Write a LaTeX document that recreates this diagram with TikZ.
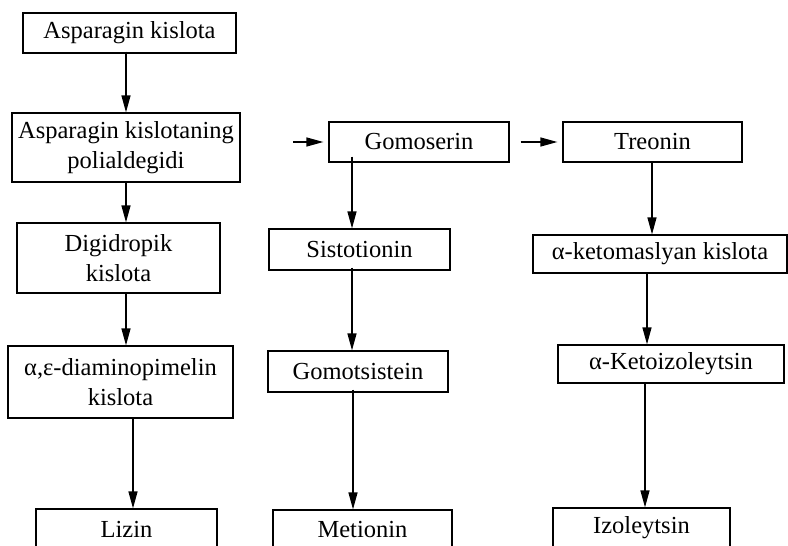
\documentclass[tikz,border=0pt]{standalone}
\usepackage{fontspec}
\setmainfont{Liberation Serif}
\usetikzlibrary{arrows.meta}
\begin{document}
\begin{tikzpicture}[x=1pt,y=-1pt,
  box/.style={draw, line width=1.2pt, inner sep=0pt, align=center,
    font=\fontsize{24.5}{30}\selectfont},
  arr/.style={line width=1.3pt, -{Triangle[length=17pt,width=9pt]}}]
\useasboundingbox (0,0) rectangle (788,546);

% left column: lysine branch
\node[box, minimum width=213pt, minimum height=40pt] (asp) at (129.5,33) {Asparagin kislota};
\node[box, minimum width=228pt, minimum height=69pt] (pol) at (126,147.5) {Asparagin kislotaning\\polialdegidi};
\node[box, minimum width=203pt, minimum height=70pt] (dig) at (118.5,258) {Digidropik\\kislota};
\node[box, minimum width=225pt, minimum height=72pt] (dap) at (120.5,382) {α,ε-diaminopimelin\\kislota};
\node[box, minimum width=181pt, minimum height=40pt] (liz) at (126.5,529) {Lizin};

% middle column: methionine branch
\node[box, minimum width=180pt, minimum height=40pt] (gom) at (419,142) {Gomoserin};
\node[box, minimum width=181pt, minimum height=41pt] (sis) at (359.5,249.5) {Sistotionin};
\node[box, minimum width=180pt, minimum height=41pt] (gcy) at (358,371.5) {Gomotsistein};
\node[box, minimum width=179pt, minimum height=40pt] (met) at (362.5,530) {Metionin};

% right column: isoleucine branch
\node[box, minimum width=179pt, minimum height=40pt] (tre) at (652.5,142) {Treonin};
\node[box, minimum width=254pt, minimum height=38pt] (kmk) at (660,254) {α-ketomaslyan kislota};
\node[box, minimum width=226pt, minimum height=38pt] (kiz) at (671,364) {α-Ketoizoleytsin};
\node[box, minimum width=177pt, minimum height=40pt] (izo) at (641.5,528) {Izoleytsin};

\coordinate (gin) at (293,142);

% connectors
\draw[arr] ([yshift=2pt]asp.south -| pol.north) -- (pol.north);
\draw[arr] (pol.south) -- (pol.south |- dig.north);
\draw[arr] (dig.south -| pol.south) -- (dap.north -| pol.south);
\draw[arr] ([xshift=12.5pt]dap.south) -- ([xshift=12.5pt]dap.south |- liz.north);

\draw[arr] (gin) -- ([xshift=-5pt]gom.west);
\draw[arr] ([xshift=11pt]gom.east) -- ([xshift=-5pt]tre.west);
\draw[arr] ([yshift=6pt]gom.south -| 352,0) -- (sis.north -| 352,0);
\draw[arr] ([yshift=3pt]sis.south -| 352,0) -- (gcy.north -| 352,0);
\draw[arr] ([yshift=3pt]gcy.south -| 353,0) -- (met.north -| 353,0);

\draw[arr] (tre.south -| 652,0) -- (kmk.north -| 652,0);
\draw[arr] (kmk.south -| 647,0) -- (kiz.north -| 647,0);
\draw[arr] (kiz.south -| 645,0) -- (izo.north -| 645,0);
\end{tikzpicture}
\end{document}
